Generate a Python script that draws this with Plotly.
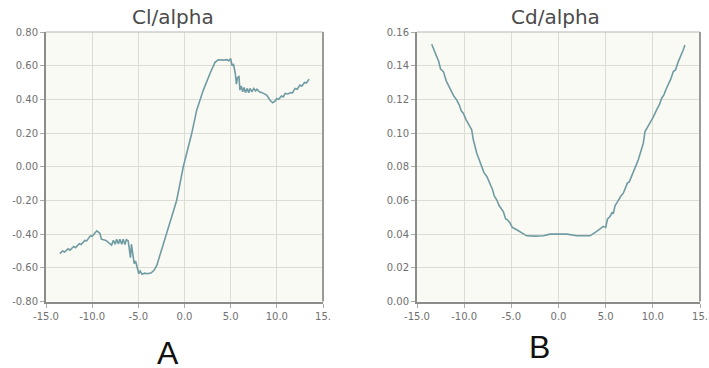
import plotly.graph_objects as go

# Lift coefficient vs angle of attack
cl_alpha = [-13.5, -13.2, -13.0, -12.6, -12.4, -12.0, -11.8, -11.4, -11.2, -10.8,
            -10.6, -10.2, -10.0, -9.5, -9.15, -9.0, -8.5, -8.07, -7.9, -7.7,
            -7.5, -7.35, -7.15, -7.0, -6.8, -6.65, -6.45, -6.3, -6.1, -5.95,
            -5.85, -5.75, -5.6, -5.45, -5.3, -5.1, -4.95, -4.8, -4.6, -4.3,
            -4.0, -3.6, -3.3, -3.0, -1.93, -0.85, -0.13, 0.24, 0.78, 1.32,
            2.04, 2.76, 3.3, 3.66, 4.2, 4.6, 4.8, 5.0, 5.15, 5.3,
            5.5, 5.62, 5.75, 5.9, 6.0, 6.15, 6.3, 6.45, 6.6, 6.8,
            6.95, 7.1, 7.3, 7.5, 7.7, 7.85, 8.1, 8.4, 8.9, 9.26,
            9.55, 9.8, 10.0, 10.2, 10.5, 10.7, 10.9, 11.2, 11.5, 11.7,
            11.97, 12.2, 12.5, 12.7, 13.0, 13.2, 13.5]
cl_values = [-0.516, -0.500, -0.506, -0.487, -0.495, -0.473, -0.480, -0.457, -0.462, -0.437,
             -0.440, -0.410, -0.413, -0.380, -0.396, -0.430, -0.437, -0.455, -0.465, -0.437,
             -0.460, -0.430, -0.458, -0.430, -0.460, -0.430, -0.462, -0.432, -0.440, -0.500,
             -0.540, -0.460, -0.530, -0.575, -0.560, -0.600, -0.635, -0.620, -0.638, -0.632,
             -0.635, -0.630, -0.615, -0.586, -0.397, -0.200, 0.000, 0.080, 0.197, 0.336,
             0.455, 0.554, 0.620, 0.635, 0.633, 0.636, 0.628, 0.642, 0.600, 0.610,
             0.555, 0.490, 0.530, 0.535, 0.455, 0.480, 0.445, 0.470, 0.440, 0.465,
             0.440, 0.465, 0.445, 0.465, 0.450, 0.460, 0.445, 0.440, 0.425, 0.395,
             0.380, 0.390, 0.405, 0.400, 0.420, 0.415, 0.435, 0.432, 0.440, 0.438,
             0.465, 0.460, 0.485, 0.478, 0.500, 0.497, 0.520]

# Drag coefficient vs angle of attack
cd_alpha = [-13.44, -13.2, -12.9, -12.7, -12.5, -12.2, -11.9, -11.68, -11.4, -11.1,
            -10.8, -10.5, -10.3, -10.09, -9.8, -9.5, -9.2, -9.03, -8.85, -8.67,
            -8.4, -8.14, -7.9, -7.6, -7.3, -7.0, -6.8, -6.55, -6.3, -6.1,
            -5.85, -5.6, -5.4, -5.14, -4.9, -4.43, -4.0, -3.37, -2.5, -1.6,
            -0.9, 0.0, 0.9, 1.93, 2.8, 3.34, 4.05, 4.75, 5.0, 5.2,
            5.46, 5.7, 5.8, 6.0, 6.17, 6.4, 6.6, 6.87, 7.1, 7.3,
            7.5, 7.76, 8.0, 8.2, 8.46, 8.7, 8.99, 9.17, 9.4, 9.7,
            10.0, 10.4, 10.7, 10.94, 11.2, 11.4, 11.64, 11.9, 12.17, 12.4,
            12.7, 13.0, 13.2, 13.4]
cd_values = [0.1527, 0.1490, 0.1444, 0.1425, 0.1380, 0.1365, 0.1310, 0.1286, 0.1250, 0.1220,
             0.1197, 0.1165, 0.1130, 0.1118, 0.1080, 0.1050, 0.1019, 0.0960, 0.0920, 0.0882,
             0.0840, 0.0800, 0.0765, 0.0742, 0.0703, 0.0665, 0.0625, 0.0604, 0.0570, 0.0555,
             0.0534, 0.0490, 0.0485, 0.0466, 0.0440, 0.0426, 0.0410, 0.0390, 0.0388, 0.0390,
             0.0400, 0.0401, 0.0400, 0.0390, 0.0388, 0.0390, 0.0416, 0.0446, 0.0440, 0.0490,
             0.0505, 0.0530, 0.0520, 0.0570, 0.0584, 0.0610, 0.0625, 0.0643, 0.0680, 0.0703,
             0.0710, 0.0742, 0.0780, 0.0805, 0.0841, 0.0885, 0.0940, 0.1009, 0.1030, 0.1059,
             0.1090, 0.1138, 0.1170, 0.1207, 0.1230, 0.1260, 0.1286, 0.1320, 0.1365, 0.1375,
             0.1424, 0.1460, 0.1490, 0.1523]

x_ticks = [-15, -10, -5, 0, 5, 10, 15]
x_tick_text = ["-15.0", "-10.0", "-5.0", "0.0", "5.0", "10.0", "15."]
cl_ticks = [-0.8, -0.6, -0.4, -0.2, 0.0, 0.2, 0.4, 0.6, 0.8]
cd_ticks = [0.0, 0.02, 0.04, 0.06, 0.08, 0.10, 0.12, 0.14, 0.16]

LINE = "#6f9ca2"
GRID = "#dddcd4"
AXIS = "#8c8c8c"
TICKFONT = dict(family="DejaVu Sans", size=10, color="#707070")

fig = go.Figure()
fig.add_trace(go.Scatter(x=cl_alpha, y=cl_values, mode="lines",
                         line=dict(color=LINE, width=1.6), xaxis="x", yaxis="y"))
fig.add_trace(go.Scatter(x=cd_alpha, y=cd_values, mode="lines",
                         line=dict(color=LINE, width=1.6), xaxis="x2", yaxis="y2"))

W, H = 709, 368
ydom = [(H - 301.5) / H, (H - 32) / H]


def xax(domain, anchor):
    return dict(domain=domain, anchor=anchor, range=[-15, 15], automargin=False,
                tickvals=x_ticks, ticktext=x_tick_text, tickfont=TICKFONT,
                showgrid=True, gridcolor=GRID, gridwidth=1, zeroline=False,
                showline=True, linecolor=AXIS, linewidth=2,
                ticks="outside", ticklen=4, tickcolor="#aaaaaa", fixedrange=True)


def yax(domain, anchor, rng, vals, fmt):
    return dict(domain=domain, anchor=anchor, range=rng, automargin=False,
                tickvals=vals, ticktext=[fmt.format(v) for v in vals], tickfont=TICKFONT,
                showgrid=True, gridcolor=GRID, gridwidth=1, zeroline=False,
                showline=True, linecolor=AXIS, linewidth=2,
                ticks="outside", ticklen=4, tickcolor="#aaaaaa", fixedrange=True)


fig.update_layout(
    template="none",
    width=W, height=H,
    margin=dict(l=0, r=0, t=0, b=0, pad=0, autoexpand=False),
    paper_bgcolor="white",
    plot_bgcolor="#fafaf5",
    showlegend=False,
    xaxis=xax([46 / W, 323 / W], "y"),
    yaxis=yax(ydom, "x", [-0.8, 0.8], cl_ticks, "{:.2f}"),
    xaxis2=xax([417 / W, 700 / W], "y2"),
    yaxis2=yax(ydom, "x2", [0.0, 0.16], cd_ticks, "{:.2f}"),
)

# Frame around each plotting area (top/right edges)
for xr, yr in (("x", "y"), ("x2", "y2")):
    fig.add_shape(type="line", xref=f"{xr} domain", yref=f"{yr} domain",
                  x0=0, x1=1, y0=1, y1=1, line=dict(color="#b5b5b5", width=1))
    fig.add_shape(type="line", xref=f"{xr} domain", yref=f"{yr} domain",
                  x0=1, x1=1, y0=0, y1=1, line=dict(color="#9a9a9a", width=2))

# Chart titles and panel letters
title_font = dict(family="DejaVu Sans", size=20, color="#4a4a4a")
letter_font = dict(family="Liberation Sans", size=32, color="#111111")
labels = [("Cl/alpha", 173, 17, title_font), ("Cd/alpha", 555, 17, title_font),
          ("A", 168, 353, letter_font), ("B", 539, 347, letter_font)]
for text, px, py, font in labels:
    fig.add_annotation(text=text, x=px / W, y=1 - py / H, xref="paper", yref="paper",
                       xanchor="center", yanchor="middle", showarrow=False, font=font)

fig.write_html("out.html")
